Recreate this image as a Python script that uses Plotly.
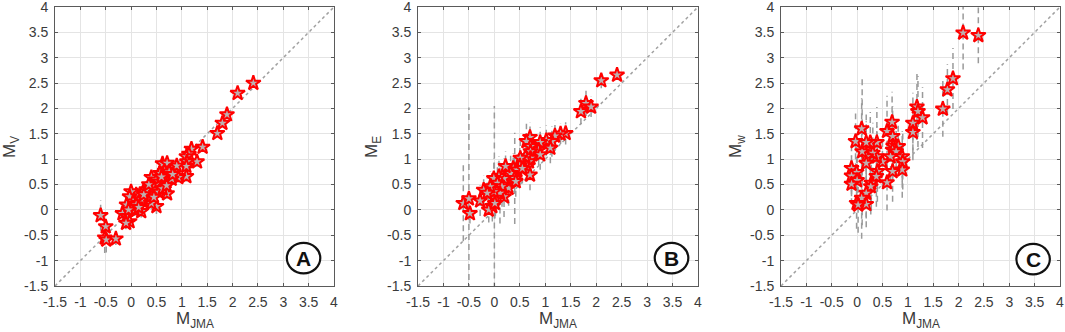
import plotly.graph_objects as go

# ---------------- data ----------------
tick_vals = [-1.5, -1, -0.5, 0, 0.5, 1, 1.5, 2, 2.5, 3, 3.5, 4]
tick_text = ["-1.5", "-1", "-0.5", "0", "0.5", "1", "1.5", "2", "2.5", "3", "3.5", "4"]
axis_range = [-1.5, 4]

# Panel A: M_JMA vs M_V
xA = [2.41, 2.10, 1.89, 1.80, 1.70, 1.41, 1.19, 1.14, 1.09, 1.30, 1.10, 1.09, 0.90, 0.62, 0.71,
      1.09, 0.93, 0.76, 0.66, 0.57, 0.40, 0.50, 0.70, 0.80, 0.60, 0.50, 0.71, 0.50, 0.37, 0.30,
      0.24, 0.17, 0.10, 0.00, -0.03, 0.04, 0.14, 0.24, 0.34, 0.40, 0.20, 0.00, -0.09, -0.17, -0.08,
      -0.03, -0.10, 0.07, -0.60, -0.50, -0.52, -0.49, -0.30, 0.45, 0.55, 0.30, 0.20, 0.10, 0.65,
      0.75, 0.60, 0.35, 0.25, 0.15, -0.05, 0.55, 0.45, 0.62, 0.70, 0.82]
yA = [2.50, 2.30, 1.88, 1.71, 1.51, 1.24, 1.20, 1.10, 1.05, 0.95, 0.95, 0.86, 0.87, 0.91, 0.92,
      0.66, 0.64, 0.69, 0.76, 0.72, 0.64, 0.59, 0.56, 0.61, 0.50, 0.43, 0.32, 0.07, 0.33, 0.26,
      0.36, 0.26, 0.30, 0.36, 0.26, 0.16, 0.13, 0.16, 0.20, 0.13, -0.03, 0.03, 0.10, -0.07, -0.13,
      -0.23, -0.26, 0.00, -0.11, -0.33, -0.55, -0.59, -0.57, 0.45, 0.55, 0.40, 0.20, 0.10, 0.60,
      0.75, 0.65, 0.50, 0.30, 0.05, 0.00, 0.35, 0.25, 0.42, 0.48, 0.70]
eA = [0.05, 0.08, 0.08, 0.08, 0.08, 0.08, 0.1, 0.1, 0.1, 0.1, 0.1, 0.1, 0.1, 0.12, 0.12,
      0.1, 0.1, 0.1, 0.1, 0.1, 0.12, 0.12, 0.1, 0.1, 0.1, 0.12, 0.1, 0.15, 0.12, 0.12,
      0.12, 0.12, 0.12, 0.2, 0.12, 0.12, 0.12, 0.12, 0.12, 0.12, 0.12, 0.12, 0.12, 0.12, 0.12,
      0.12, 0.12, 0.12, 0.3, 0.15, 0.3, 0.25, 0.12, 0.1, 0.1, 0.1, 0.1, 0.1, 0.1,
      0.1, 0.1, 0.1, 0.1, 0.1, 0.1, 0.1, 0.1, 0.1, 0.1, 0.1]

# Panel B: M_JMA vs M_E
xB = [2.41, 2.10, 1.80, 1.90, 1.70, 1.40, 1.30, 1.19, 1.13, 1.02, 0.90, 1.10, 0.87, 0.70, 0.63,
      0.71, 0.90, 0.71, 0.71, 0.68, 0.64, 0.70, 0.61, 0.51, 0.50, 0.37, 0.45, 0.55, 0.32, 0.22,
      0.40, 0.28, 0.19, 0.09, 0.00, -0.01, 0.06, 0.15, 0.19, 0.11, 0.02, -0.01, -0.08, -0.21, -0.14,
      -0.28, -0.04, -0.11, 0.01, -0.61, -0.50, -0.48, 0.42]
yB = [2.66, 2.55, 2.10, 2.03, 1.94, 1.51, 1.50, 1.46, 1.35, 1.37, 1.33, 1.22, 1.18, 1.43, 1.35,
      1.25, 1.09, 1.15, 1.02, 0.95, 0.86, 0.69, 1.05, 1.02, 0.87, 0.82, 0.79, 0.82, 0.72, 0.86,
      0.62, 0.43, 0.62, 0.66, 0.25, 0.62, 0.53, 0.46, 0.26, 0.33, 0.23, 0.36, 0.46, 0.39, 0.33,
      0.18, 0.07, 0.00, 0.13, 0.13, 0.22, -0.07, 0.56]
eB = [0.10, 0.15, 0.25, 0.20, 0.25, 0.22, 0.20, 0.30, 0.30, 0.30, 0.30, 0.30, 0.30, 0.30, 0.35,
      0.30, 0.30, 0.30, 0.30, 0.30, 0.30, 0.30, 0.30, 0.35, 0.35, 0.30, 0.30, 0.30, 0.35, 0.30,
      0.90, 0.35, 0.40, 0.40, 1.80, 0.40, 0.40, 0.40, 0.40, 0.60, 0.35, 0.35, 0.30, 0.30, 0.30,
      0.30, 0.30, 0.25, 0.30, 0.75, 1.80, 0.20, 0.30]

# Panel C: M_JMA vs M_w
xC = [2.09, 2.39, 1.89, 1.78, 1.69, 1.18, 1.20, 1.29, 1.10, 1.10, 0.69, 0.59, 0.70, 0.71, 0.81,
      0.70, 0.77, 0.66, 0.89, 0.90, 0.89, 0.70, 0.59, 0.50, 0.39, 0.39, 0.40, 0.38, 0.28, 0.27,
      0.31, 0.18, 0.18, 0.26, 0.10, 0.09, -0.03, 0.18, -0.11, -0.01, -0.11, 0.00, -0.11, 0.18, 0.09,
      -0.01, 0.18, 0.02]
yC = [3.49, 3.44, 2.59, 2.37, 1.99, 2.03, 1.94, 1.82, 1.71, 1.53, 1.73, 1.55, 1.45, 1.26, 1.25,
      1.18, 1.15, 1.05, 1.05, 0.95, 0.79, 0.76, 0.54, 0.95, 1.33, 1.05, 0.76, 0.66, 0.53, 0.46,
      1.12, 1.05, 0.92, 1.33, 1.15, 1.60, 1.35, 1.33, 0.82, 0.74, 0.67, 0.58, 0.51, 0.33, 0.23,
      0.13, 0.11, 0.10]
eC = [0.72, 0.55, 0.60, 0.50, 0.55, 0.65, 0.70, 0.60, 0.60, 0.55, 0.60, 0.70, 0.60, 0.60, 0.50,
      0.60, 0.50, 0.50, 0.50, 0.55, 0.55, 0.60, 0.55, 0.50, 0.70, 0.60, 0.60, 0.60, 0.55, 0.55,
      0.60, 0.70, 0.60, 0.60, 1.45, 0.60, 0.55, 0.55, 0.45, 0.60, 0.40, 0.45, 0.40, 0.50, 0.80,
      0.50, 0.45, 0.55]

panels = [
    dict(x=xA, y=yA, e=eA, label="A", ytitle="M<sub>V</sub>", lx=3.40, ly=-0.95),
    dict(x=xB, y=yB, e=eB, label="B", ytitle="M<sub>E</sub>", lx=3.48, ly=-0.95),
    dict(x=xC, y=yC, e=eC, label="C", ytitle="M<sub>w</sub>", lx=3.47, ly=-0.97),
]

# layout geometry (pixels)
W, H = 1065, 332
x_doms_px = [(55, 334), (418, 698), (781, 1060)]
y_dom_px = (7, 286)
ytitle_px = [11, 373, 737]

FONT = "Liberation Sans, Arial, Helvetica, sans-serif"
TXT = "#3a3a3a"

fig = go.Figure()
annotations = []
shapes = []

for i, p in enumerate(panels):
    sfx = "" if i == 0 else str(i + 1)
    xa, ya = "x" + sfx, "y" + sfx
    # diagonal 1:1 line
    fig.add_trace(go.Scatter(x=axis_range, y=axis_range, mode="lines", xaxis=xa, yaxis=ya,
                             line=dict(color="#a0a0a0", width=1.5, dash="dot"),
                             hoverinfo="skip"))
    # error bars as dashed segments
    ex, ey = [], []
    for xv, yv, ev in zip(p["x"], p["y"], p["e"]):
        ex += [xv, xv, None]
        ey += [yv - ev, yv + ev, None]
    fig.add_trace(go.Scatter(x=ex, y=ey, mode="lines", xaxis=xa, yaxis=ya,
                             line=dict(color="#9a9a9a", width=1.5, dash="6px,4px"),
                             hoverinfo="skip"))
    # stars
    fig.add_trace(go.Scatter(x=p["x"], y=p["y"], mode="markers", xaxis=xa, yaxis=ya,
                             marker=dict(symbol="star", size=11, color="#bdb0b0",
                                         line=dict(color="#ff0000", width=2)),
                             cliponaxis=False))
    x0, x1 = x_doms_px[i]
    axcommon = dict(range=axis_range, tickvals=tick_vals, ticktext=tick_text,
                    showgrid=True, gridcolor="#e4e4e4", gridwidth=1, automargin=False,
                    zeroline=False, showline=True, linecolor="#5a5a5a", linewidth=1,
                    mirror="ticks", ticks="inside", ticklen=3, tickcolor="#5a5a5a",
                    ticklabeloverflow="allow",
                    tickfont=dict(family=FONT, size=14, color=TXT), fixedrange=True)
    fig.update_layout(**{
        "xaxis" + sfx: dict(axcommon, domain=[x0 / W, x1 / W], anchor=ya, ticklabelstandoff=3),
        "yaxis" + sfx: dict(axcommon, domain=[1 - y_dom_px[1] / H, 1 - y_dom_px[0] / H],
                            anchor=xa, ticklabelstandoff=3),
    })
    # axis titles
    annotations.append(dict(text="M<sub>JMA</sub>", xref="paper", yref="paper",
                            x=(x0 + x1) / 2 / W, y=1 - 320 / H, showarrow=False,
                            font=dict(family=FONT, size=17, color=TXT),
                            xanchor="center", yanchor="middle"))
    annotations.append(dict(text=p["ytitle"], xref="paper", yref="paper",
                            x=ytitle_px[i] / W, y=1 - 147 / H, showarrow=False, textangle=-90,
                            font=dict(family=FONT, size=17, color=TXT),
                            xanchor="center", yanchor="middle"))
    # circled letter
    rx, ry = 0.33, 0.30
    shapes.append(dict(type="circle", xref=xa, yref=ya,
                       x0=p["lx"] - rx, x1=p["lx"] + rx, y0=p["ly"] - ry, y1=p["ly"] + ry,
                       line=dict(color="#111111", width=2.2), fillcolor="white"))
    annotations.append(dict(text="<b>" + p["label"] + "</b>", xref=xa, yref=ya,
                            x=p["lx"], y=p["ly"], showarrow=False,
                            font=dict(family=FONT, size=21, color="#111111"),
                            xanchor="center", yanchor="middle"))

fig.update_layout(width=W, height=H, margin=dict(l=0, r=0, t=0, b=0, autoexpand=False),
                  paper_bgcolor="white", plot_bgcolor="white", showlegend=False,
                  annotations=annotations, shapes=shapes)

fig.write_html("out.html", config={"displayModeBar": False, "staticPlot": True},
               post_script="document.body.style.margin='0px';document.body.style.overflow='hidden';")
